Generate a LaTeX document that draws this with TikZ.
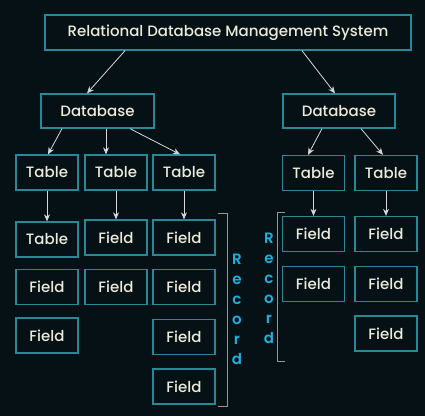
\documentclass[tikz,border=0pt]{standalone}
\usepackage{fontspec}
\setmainfont{Poppins Medium}
\newfontfamily\recfont{Poppins SemiBold}
\usetikzlibrary{arrows.meta}
\definecolor{bg}{RGB}{5,17,20}
\definecolor{boxc}{RGB}{40,136,152}
\definecolor{txt}{RGB}{236,234,220}
\definecolor{recc}{RGB}{26,176,226}
\definecolor{brk}{RGB}{150,150,150}
\definecolor{arr}{RGB}{215,215,215}
\tikzset{
  bx/.style={draw=boxc, line width=1.3pt, text=txt, inner sep=0pt, font=\fontsize{15}{17}\selectfont},
  tb/.style={bx, minimum width=62pt, minimum height=35pt},
  conn/.style={draw=arr, line width=0.8pt, -{Stealth[length=7pt,width=6pt]}},
  brack/.style={draw=brk, line width=1pt},
  rec/.style={text=recc, align=center, inner sep=0pt, font=\recfont\fontsize{15}{20}\selectfont}
}
\begin{document}
\begin{tikzpicture}[x=1pt,y=-1pt]
\fill[bg] (0,0) rectangle (425,416);
\useasboundingbox (0,0) rectangle (425,416);
% top
\node[bx, minimum width=366pt, minimum height=35pt] (top) at (228,32.5) {Relational Database Management System};
\node[bx, minimum width=113pt, minimum height=34pt] (dbL) at (97.5,111) {Database};
\node[bx, minimum width=112pt, minimum height=34pt] (dbR) at (339,111) {Database};
% tables
\node[tb] (tL1) at (47,172.5) {Table};
\node[tb] (tL2) at (116,172.5) {Table};
\node[tb] (tL3) at (184,172.5) {Table};
\node[tb] (tR1) at (313.5,173) {Table};
\node[tb] (tR2) at (386,173) {Table};
% left col1
\node[tb] (a1) at (47,239.5) {Table};
\node[tb] (a2) at (47,287) {Field};
\node[tb] (a3) at (47,335.5) {Field};
% left col2
\node[tb] (b1) at (116,237.5) {Field};
\node[tb] (b2) at (116,287) {Field};
% left col3
\node[tb] (c1) at (184,237.5) {Field};
\node[tb] (c2) at (184,287) {Field};
\node[tb] (c3) at (184,337) {Field};
\node[tb] (c4) at (184,386.5) {Field};
% right col1
\node[tb] (d1) at (313.5,234) {Field};
\node[tb] (d2) at (313.5,284) {Field};
% right col2
\node[tb] (e1) at (386,234) {Field};
\node[tb] (e2) at (386,284) {Field};
\node[tb] (e3) at (386,333.5) {Field};
% arrows
\draw[conn] ([xshift=-103pt]top.south) -- ([xshift=-10.5pt]dbL.north);
\draw[conn] ([xshift=74pt]top.south) -- ([xshift=-4pt]dbR.north);
\draw[conn] ([xshift=-35.5pt]dbL.south) -- ([xshift=1pt]tL1.north);
\draw[conn] ([xshift=8.5pt]dbL.south) -- ([xshift=-10pt]tL2.north);
\draw[conn] ([xshift=32.5pt]dbL.south) -- ([xshift=-4pt]tL3.north);
\draw[conn] ([xshift=-17pt]dbR.south) -- ([xshift=-5.5pt]tR1.north);
\draw[conn] ([xshift=22pt]dbR.south) -- ([xshift=-3pt]tR2.north);
\draw[conn] (tL1) -- (a1);
\draw[conn] (tL2) -- (b1);
\draw[conn] (tL3) -- (c1);
\draw[conn] (tR1) -- (d1);
\draw[conn] (tR2) -- (e1);
% brackets
\coordinate (bl1) at (218,213);
\coordinate (bl2) at (218,406);
\draw[brack] (bl1) -- (227,213) -- (227,406) -- (bl2);
\coordinate (br1) at (285,212);
\coordinate (br2) at (285,361);
\draw[brack] (br1) -- (277,212) -- (277,361) -- (br2);
\node[rec] (recL) at (237,309) {R\\e\\c\\o\\r\\d};
\node[rec] (recR) at (269,288) {R\\e\\c\\o\\r\\d};
\end{tikzpicture}
\end{document}
